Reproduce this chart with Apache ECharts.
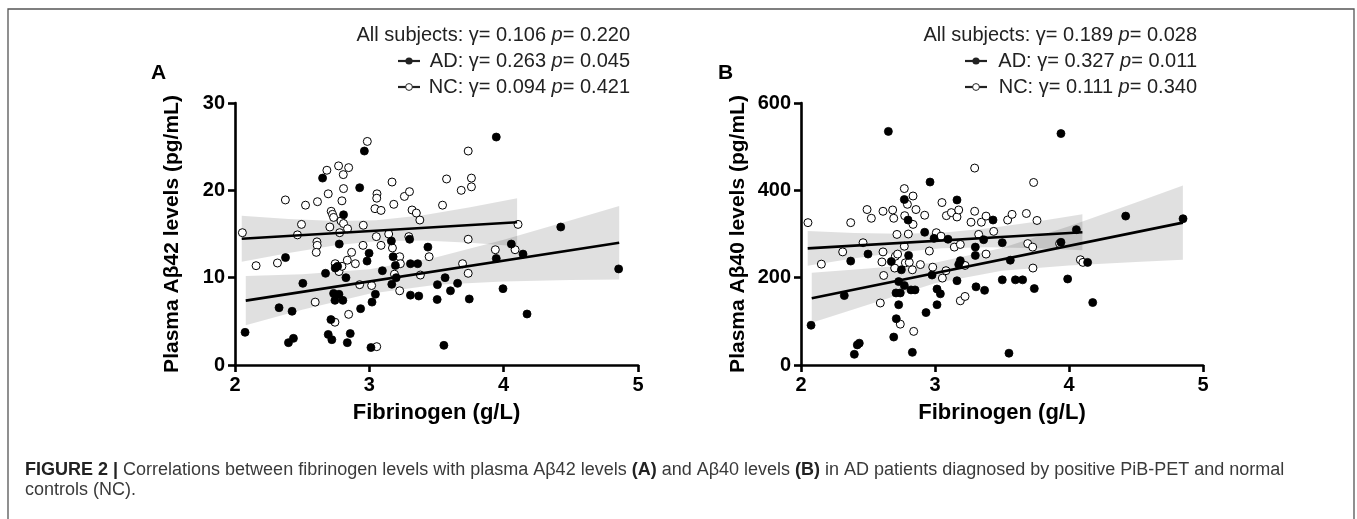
<!DOCTYPE html>
<html><head><meta charset="utf-8">
<script src="https://cdn.jsdelivr.net/npm/echarts@6/dist/echarts.min.js"></script>
<style>html,body{margin:0;padding:0;background:#fff}#c{width:1357px;height:519px}</style>
</head><body><div id="c"></div>
<script>
// ---------- data ----------
const xTicks = [2, 3, 4, 5];
const yTicksA = [0, 10, 20, 30];
const yTicksB = [0, 200, 400, 600];

const xName = 'Fibrinogen (g/L)';
const yNameA = 'Plasma Aβ42 levels (pg/mL)';
const yNameB = 'Plasma Aβ40 levels (pg/mL)';
const panelLetters = ['A', 'B'];
const legendA = ['All subjects: γ= 0.106 {i|p}= 0.220', 'AD: γ= 0.263 {i|p}= 0.045', 'NC: γ= 0.094 {i|p}= 0.421'];
const legendB = ['All subjects: γ= 0.189 {i|p}= 0.028', 'AD: γ= 0.327 {i|p}= 0.011', 'NC: γ= 0.111 {i|p}= 0.340'];
const captionLine1 = '{b|FIGURE 2 |} Correlations between fibrinogen levels with plasma Aβ42 levels {b|(A)} and Aβ40 levels {b|(B)} in AD patients diagnosed by positive PiB-PET and normal';
const captionLine2 = 'controls (NC).';

// Panel A : AD (filled) and NC (open)
const adA = [[2.075,3.74],[2.328,6.56],[2.376,12.3],[2.398,2.56],[2.435,3.05],[2.425,6.15],[2.505,9.35],[2.652,21.4],[2.674,10.5],[2.714,5.2],[2.694,3.5],[2.721,2.9],[2.734,8.2],[2.774,8.1],[2.744,7.4],[2.803,7.4],[2.746,11.1],[2.764,11.3],[2.808,17.2],[2.776,13.85],[2.826,10.0],[2.836,2.56],[2.858,3.6],[2.928,20.3],[2.935,6.45],[2.963,24.5],[2.998,12.8],[2.983,11.9],[3.012,2.0],[3.02,7.2],[3.045,8.1],[3.097,10.8],[3.164,14.2],[3.177,12.4],[3.194,11.4],[3.167,9.24],[3.2,10.0],[3.3,14.4],[3.306,11.6],[3.36,11.6],[3.306,8.0],[3.368,7.9],[3.436,13.5],[3.507,9.2],[3.564,10.0],[3.505,7.5],[3.604,8.5],[3.657,9.35],[3.744,7.56],[3.555,2.25],[3.945,26.1],[3.945,12.2],[3.995,8.74],[4.057,13.85],[4.144,12.7],[4.174,5.84],[4.425,15.8],[4.856,11.0]];
const ncA = [[2.055,15.15],[2.157,11.37],[2.316,11.68],[2.375,18.9],[2.465,14.9],[2.495,16.1],[2.525,18.3],[2.597,7.2],[2.614,18.7],[2.61,14.1],[2.612,13.7],[2.605,12.9],[2.684,22.3],[2.694,19.6],[2.716,17.6],[2.726,17.25],[2.734,16.9],[2.706,15.8],[2.771,22.8],[2.806,21.8],[2.808,20.2],[2.846,22.6],[2.796,18.8],[2.789,16.5],[2.808,16.2],[2.838,15.6],[2.779,15.15],[2.746,11.6],[2.774,10.7],[2.796,11.3],[2.836,12.0],[2.868,12.9],[2.896,11.6],[2.744,4.9],[2.846,5.8],[2.928,9.2],[2.955,16.0],[2.953,13.7],[2.985,25.6],[3.017,9.1],[3.055,2.1],[3.052,14.7],[3.057,19.6],[3.055,19.1],[3.042,17.9],[3.087,17.7],[3.087,13.7],[3.144,15.0],[3.169,20.95],[3.182,18.4],[3.172,13.4],[3.187,10.4],[3.226,12.4],[3.231,11.6],[3.226,8.5],[3.261,19.3],[3.299,19.85],[3.318,17.75],[3.35,17.4],[3.376,16.6],[3.294,14.7],[3.38,10.3],[3.445,12.4],[3.545,18.3],[3.575,21.3],[3.684,20.0],[3.736,24.5],[3.76,21.4],[3.76,20.4],[3.736,14.4],[3.694,11.6],[3.736,10.5],[3.938,13.2],[4.085,13.2],[4.107,16.1]];

// Panel B : AD (filled) and NC (open)
const adB = [[2.075,91],[2.323,159],[2.371,238],[2.398,24.5],[2.42,46],[2.435,50],[2.5,254],[2.652,535],[2.674,237],[2.692,64],[2.711,106],[2.729,138],[2.729,191],[2.709,165],[2.741,165],[2.749,218],[2.771,379],[2.799,332],[2.803,251],[2.771,182],[2.821,172],[2.851,172],[2.831,29],[2.933,120],[2.923,304],[2.963,419],[2.978,206],[2.993,290],[3.015,174],[3.04,163],[3.015,138],[3.097,288],[3.164,378],[3.164,193],[3.189,239],[3.177,230],[3.306,179],[3.301,270],[3.301,251],[3.433,332],[3.363,287],[3.37,171],[3.502,280],[3.562,240],[3.502,195],[3.6,195],[3.654,195],[3.741,175],[3.552,27],[3.94,530],[3.94,281],[3.99,197],[4.055,310],[4.139,235],[4.177,143],[4.423,341],[4.851,335]];
const ncB = [[2.052,326],[2.152,231],[2.311,259],[2.371,326],[2.463,280],[2.493,356],[2.525,336],[2.592,142],[2.612,352],[2.604,236],[2.612,259],[2.617,205],[2.684,355],[2.692,336],[2.716,299],[2.704,249],[2.721,254],[2.699,222],[2.771,404],[2.794,368],[2.774,342],[2.836,387],[2.858,356],[2.836,322],[2.801,300],[2.771,272],[2.779,234],[2.808,235],[2.831,218],[2.741,93.5],[2.841,77],[2.891,230],[2.923,343],[2.958,261],[2.983,224],[3.01,303],[3.045,295],[3.055,199],[3.052,372],[3.082,216],[3.085,342],[3.122,349],[3.144,270],[3.164,339],[3.177,355],[3.189,276],[3.224,228],[3.189,147],[3.224,157],[3.269,327],[3.296,451],[3.296,352],[3.326,299],[3.346,327],[3.381,341],[3.381,254],[3.438,306],[3.542,332],[3.575,345],[3.682,347],[3.736,418],[3.761,331],[3.692,278],[3.729,270],[3.731,222],[3.93,278],[4.085,241],[4.104,235]];

// regression lines
const fitAdA = [[2.08,7.37],[4.86,14.0]];
const fitNcA = [[2.05,14.45],[4.1,16.35]];
const fitAdB = [[2.08,153],[4.85,326]];
const fitNcB = [[2.05,267],[4.1,304]];

// 95% confidence bands
const bandAdAX = [2.08,2.5,3.0,3.5,4.0,4.5,4.86];
const bandAdALo = [4.54,6.34,8.17,9.18,9.56,9.73,9.8];
const bandAdAHi = [10.2,10.4,10.95,12.34,14.34,16.57,18.2];
const bandNcAX = [2.05,2.4,2.75,3.05,3.4,3.75,4.1];
const bandNcALo = [11.81,12.83,13.71,14.18,14.25,13.99,13.61];
const bandNcAHi = [17.09,16.71,16.49,16.58,17.15,18.07,19.09];
const bandAdBX = [2.08,2.5,3.0,3.5,4.0,4.5,4.85];
const bandAdBLo = [97,138,187,216,228,236,241];
const bandAdBHi = [211,221,234,268,318,372,411];
const bandNcBX = [2.05,2.4,2.75,3.05,3.4,3.75,4.1];
const bandNcBLo = [227.4,244.2,258.8,267.1,269.6,267.3,262.8];
const bandNcBHi = [306.6,302.4,300.6,303.1,313.2,328.3,345.2];

// ---------- chart ----------
const FONT = '"Liberation Sans", Arial, Helvetica, sans-serif';
const chart = echarts.init(document.getElementById('c'), null, {renderer: 'canvas'});

function bandSeries(idx, xs, lo, hi) {
  return {
    type: 'custom', xAxisIndex: idx, yAxisIndex: idx, z: 1, silent: true,
    data: [[xs[0], lo[0]]],
    renderItem: function (params, api) {
      const pts = [];
      for (let i = 0; i < xs.length; i++) pts.push(api.coord([xs[i], hi[i]]));
      for (let i = xs.length - 1; i >= 0; i--) pts.push(api.coord([xs[i], lo[i]]));
      return {type: 'polygon', shape: {points: pts}, style: {fill: 'rgba(0,0,0,0.12)', stroke: null}};
    }
  };
}
function fitSeries(idx, d) {
  return {type: 'line', xAxisIndex: idx, yAxisIndex: idx, data: d, showSymbol: false, z: 4, silent: true,
    lineStyle: {color: '#000', width: 2.6}};
}
function scatterSeries(idx, d, filled) {
  return {type: 'scatter', xAxisIndex: idx, yAxisIndex: idx, data: d, symbolSize: 8, z: 3, silent: true,
    itemStyle: filled ? {color: '#000', borderColor: '#000', borderWidth: 0.8, opacity: 1}
                      : {color: '#fff', borderColor: '#000', borderWidth: 1, opacity: 1}};
}
function xAxisDef(idx) {
  return {
    type: 'value', gridIndex: idx, min: xTicks[0], max: xTicks[xTicks.length - 1], interval: 1,
    name: xName, nameLocation: 'middle', nameGap: 37,
    nameTextStyle: {fontFamily: FONT, fontWeight: 'bold', fontSize: 22, color: '#000'},
    axisLine: {onZero: false, lineStyle: {color: '#000', width: 2.6}},
    axisTick: {length: 7, lineStyle: {color: '#000', width: 2.6}},
    axisLabel: {fontFamily: FONT, fontWeight: 'bold', fontSize: 20, color: '#000', margin: 10},
    splitLine: {show: false}
  };
}
function yAxisDef(idx, ticks, name) {
  return {
    type: 'value', gridIndex: idx, min: ticks[0], max: ticks[ticks.length - 1], interval: ticks[1] - ticks[0],
    name: name, nameLocation: 'middle', nameGap: 52,
    nameTextStyle: {fontFamily: FONT, fontWeight: 'bold', fontSize: 21, color: '#000'},
    axisLine: {onZero: false, lineStyle: {color: '#000', width: 2.6}},
    axisTick: {length: 7, lineStyle: {color: '#000', width: 2.6}},
    axisLabel: {fontFamily: FONT, fontWeight: 'bold', fontSize: 20, color: '#000', margin: 10},
    splitLine: {show: false}
  };
}

function legendGraphics(rightX, texts) {
  const ys = [35, 61, 87];
  const els = [];
  texts.forEach((t, i) => {
    els.push({type: 'text', x: rightX, y: ys[i], silent: true,
      style: {text: t, fill: '#222', font: '20px ' + FONT, textAlign: 'right', textVerticalAlign: 'middle',
        rich: {i: {fontStyle: 'italic', fontSize: 20, fontFamily: FONT, fill: '#222'}}}});
  });
  const mx = rightX - 221;
  [1, 2].forEach(i => {
    els.push({type: 'line', silent: true, shape: {x1: mx - 11, y1: ys[i], x2: mx + 11, y2: ys[i]},
      style: {stroke: '#222', lineWidth: 2.2}});
    els.push({type: 'circle', silent: true, shape: {cx: mx, cy: ys[i], r: i === 1 ? 3.6 : 3.4},
      style: i === 1 ? {fill: '#222'} : {fill: '#fff', stroke: '#222', lineWidth: 1}});
  });
  return els;
}

const graphics = [
  {type: 'rect', silent: true, shape: {x: 8, y: 9, width: 1346, height: 530},
    style: {fill: null, stroke: '#555', lineWidth: 1.3}},
  {type: 'text', x: 151, y: 73, silent: true, style: {text: panelLetters[0], font: 'bold 21px ' + FONT, fill: '#000', textVerticalAlign: 'middle'}},
  {type: 'text', x: 718, y: 73, silent: true, style: {text: panelLetters[1], font: 'bold 21px ' + FONT, fill: '#000', textVerticalAlign: 'middle'}},
  {type: 'text', x: 25, y: 470, silent: true, style: {text: captionLine1, font: '18px ' + FONT, fill: '#3a3a3a', textVerticalAlign: 'middle',
    rich: {b: {fontWeight: 'bold', fontSize: 18, fontFamily: FONT, fill: '#222'}}}},
  {type: 'text', x: 25, y: 490, silent: true, style: {text: captionLine2, font: '18px ' + FONT, fill: '#3a3a3a', textVerticalAlign: 'middle'}}
].concat(legendGraphics(630, legendA), legendGraphics(1197, legendB));

chart.setOption({
  animation: false,
  backgroundColor: '#fff',
  grid: [
    {left: 235, top: 103, width: 403, height: 262},
    {left: 801, top: 103, width: 402, height: 262}
  ],
  xAxis: [xAxisDef(0), xAxisDef(1)],
  yAxis: [yAxisDef(0, yTicksA, yNameA), yAxisDef(1, yTicksB, yNameB)],
  series: [
    bandSeries(0, bandNcAX, bandNcALo, bandNcAHi),
    bandSeries(0, bandAdAX, bandAdALo, bandAdAHi),
    bandSeries(1, bandNcBX, bandNcBLo, bandNcBHi),
    bandSeries(1, bandAdBX, bandAdBLo, bandAdBHi),
    scatterSeries(0, ncA, false), scatterSeries(0, adA, true),
    scatterSeries(1, ncB, false), scatterSeries(1, adB, true),
    fitSeries(0, fitNcA), fitSeries(0, fitAdA),
    fitSeries(1, fitNcB), fitSeries(1, fitAdB)
  ],
  graphic: graphics
});
</script></body></html>
